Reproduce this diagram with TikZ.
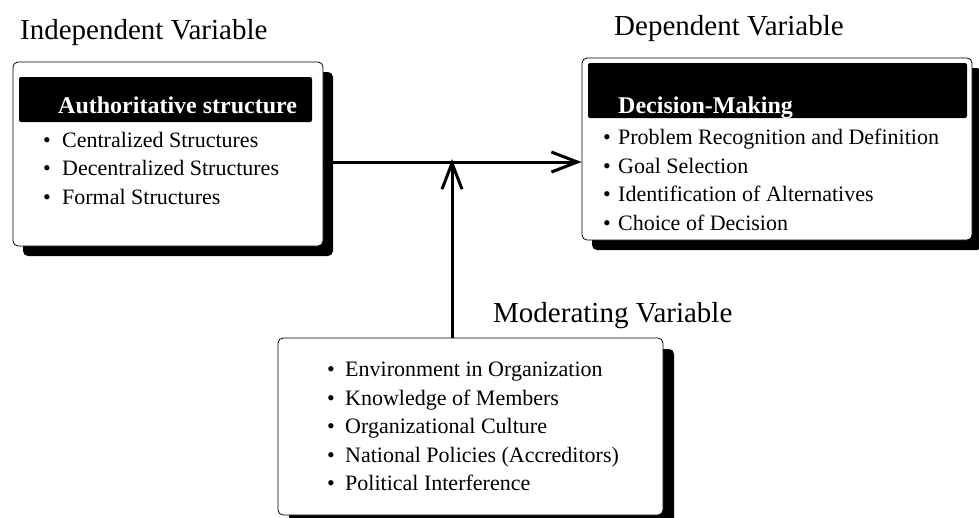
\documentclass[tikz,border=0pt]{standalone}
\usepackage{fontspec}
\setmainfont{Liberation Serif}
\usetikzlibrary{arrows.meta,shadows}
\newcommand{\bul}[1][19pt]{\makebox[#1][l]{\textbullet}}
\begin{document}
\begin{tikzpicture}[x=1pt,y=-1pt,
  box/.style={draw=black,line width=0.8pt,fill=white,rounded corners=5pt,inner sep=0pt},
  shadowed/.style={general shadow={fill=black,shadow xshift=#1,shadow yshift=-#1,rounded corners=5pt}},
  bar/.style={fill=black,rounded corners=2pt,inner sep=0pt},
  head/.style={text=white,font=\fontsize{24}{26}\selectfont\bfseries,inner sep=0pt,anchor=base west},
  items/.style={align=left,inner sep=0pt,anchor=north west,font=\fontsize{22}{28.5}\selectfont},
  lbl/.style={font=\fontsize{29}{31}\selectfont,inner sep=0pt,anchor=base west},
  arr/.style={line width=3pt,-{Straight Barb[length=26pt,width=20pt,line width=3pt]}}
]
\useasboundingbox (0,0) rectangle (979,517);
% labels
\node[lbl] (liv) at (20,39) {Independent Variable};
\node[lbl] (ldv) at (614,35) {Dependent Variable};
\node[lbl] (lmv) at (493,322) {Moderating Variable};
% independent
\node[box,shadowed=10pt,minimum width=310pt,minimum height=184pt] (iv) at (168,154) {};
\node[bar,minimum width=293pt,minimum height=45pt] (ivb) at (165.5,99.5) {};
\node[head] (ivh) at (58,113) {Authoritative structure};
\node[items] (ivi) at (43,132) {\bul[19pt]Centralized Structures\\\bul[19pt]Decentralized Structures\\\bul[19pt]Formal Structures};
% dependent
\node[box,shadowed=10pt,minimum width=390pt,minimum height=182pt] (dv) at (777,149) {};
\node[bar,minimum width=379pt,minimum height=55pt] (dvb) at (777.5,90.5) {};
\node[head] (dvh) at (618,113) {Decision-Making};
\node[items] (dvi) at (603,129) {\bul[15pt]Problem Recognition and Definition\\\bul[15pt]Goal Selection\\\bul[15pt]Identification of Alternatives\\\bul[15pt]Choice of Decision};
% moderating
\node[box,shadowed=11pt,minimum width=385pt,minimum height=177pt] (mv) at (470.5,426.5) {};
\node[items] (mvi) at (327,362) {\bul[18pt]Environment in Organization\\\bul[18pt]Knowledge of Members\\\bul[18pt]Organizational Culture\\\bul[18pt]National Policies (Accreditors)\\\bul[18pt]Political Interference};
% connectors
\coordinate (j) at (452,162);
\draw[arr] (iv.east |- j) -- (dv.west |- j);
\draw[arr] (mv.north -| j) -- ([yshift=3pt]j);
\end{tikzpicture}
\end{document}
